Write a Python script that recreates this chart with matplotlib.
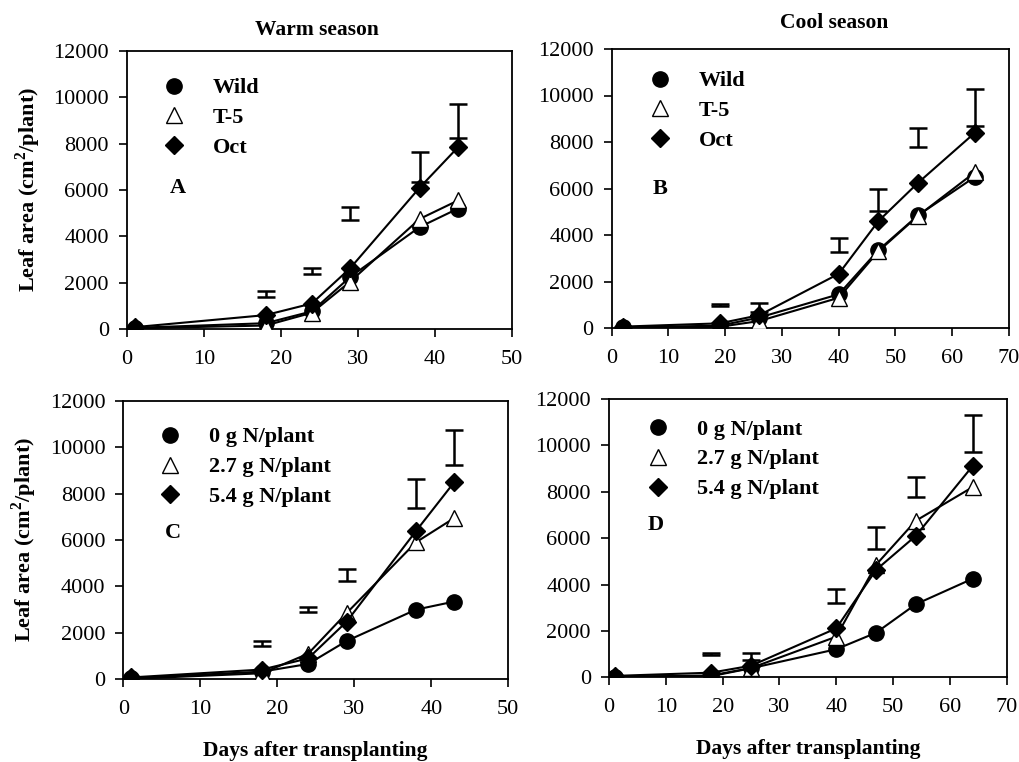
import numpy as np
import matplotlib
matplotlib.use("Agg")
import matplotlib.pyplot as plt

plt.rcParams["font.family"] = ["Liberation Serif", "DejaVu Serif"]
plt.rcParams["mathtext.fontset"] = "custom"
plt.rcParams["mathtext.rm"] = "Liberation Serif:bold"
plt.rcParams["mathtext.bf"] = "Liberation Serif:bold"

# --- data (leaf area, cm2/plant) ---
days_warm = [1, 18, 24, 29, 38, 43]
days_cool_b = [2, 19, 26, 40, 47, 54, 64]
days_cool_d = [1, 18, 25, 40, 47, 54, 64]

# A: warm season, cultivars
a_wild = [50, 250, 760, 2250, 4400, 5200]
a_t5 = [30, 150, 700, 2050, 4750, 5550]
a_oct = [80, 600, 1100, 2630, 6100, 7850]
a_bar_lo = [1370, 2370, 4720, 6350, 8250]
a_bar_hi = [1660, 2620, 5250, 7620, 9720]
a_bar_x = [18, 24, 29, 38, 43]

# B: cool season, cultivars
b_wild = [30, 100, 450, 1450, 3350, 4850, 6500]
b_t5 = [20, 50, 300, 1300, 3300, 4830, 6700]
b_oct = [60, 200, 550, 2330, 4600, 6250, 8400]
b_bar_lo = [960, 690, 3280, 5030, 7770, 8690]
b_bar_hi = [1040, 1090, 3890, 5960, 8620, 10270]
b_bar_x = [19, 26, 40, 47, 54, 64]

# C: warm season, N rates
c_n0 = [50, 330, 660, 1650, 3000, 3350]
c_n27 = [20, 260, 1100, 2850, 5900, 6950]
c_n54 = [80, 420, 900, 2480, 6380, 8500]
c_bar_lo = [1435, 2910, 4250, 7390, 9230]
c_bar_hi = [1660, 3130, 4750, 8620, 10730]
c_bar_x = [18, 24, 29, 38, 43]

# D: cool season, N rates
d_n0 = [30, 50, 390, 1210, 1920, 3150, 4250]
d_n27 = [20, 80, 400, 1750, 4850, 6750, 8200]
d_n54 = [60, 200, 500, 2110, 4630, 6100, 9110]
d_bar_lo = [960, 750, 3190, 5520, 7760, 9730]
d_bar_hi = [1040, 1060, 3810, 6490, 8620, 11300]
d_bar_x = [18, 25, 40, 47, 54, 64]

labels_cv = ["Wild", "T-5", "Oct"]
labels_n = ["0 g N/plant", "2.7 g N/plant", "5.4 g N/plant"]

fig = plt.figure(figsize=(10.2, 7.62), dpi=100)

W, H = 1020.0, 762.0


def add_axes(left, right, top, bottom):
    return fig.add_axes([left / W, 1 - bottom / H, (right - left) / W, (bottom - top) / H])


panels = [
    (add_axes(127, 512, 51, 329), days_warm, (a_wild, a_t5, a_oct), a_bar_x, a_bar_lo, a_bar_hi,
     50, labels_cv, "A", (0.092, 0.759), (0.132, 0.507)),
    (add_axes(611.7, 1009, 49, 328), days_cool_b, (b_wild, b_t5, b_oct), b_bar_x, b_bar_lo, b_bar_hi,
     70, labels_cv, "B", (0.093, 0.778), (0.122, 0.498)),
    (add_axes(123.3, 508.3, 400.7, 679.3), days_warm, (c_n0, c_n27, c_n54), c_bar_x, c_bar_lo, c_bar_hi,
     50, labels_n, "C", (0.092, 0.762), (0.129, 0.525)),
    (add_axes(609, 1006.7, 399, 677.3), days_cool_d, (d_n0, d_n27, d_n54), d_bar_x, d_bar_lo, d_bar_hi,
     70, labels_n, "D", (0.095, 0.784), (0.118, 0.547)),
]

for ax, x, series, bx, blo, bhi, xmax, labels, letter, leg_pos, let_pos in panels:
    s1, s2, s3 = series
    ax.plot(x, s1, "-o", color="k", lw=1.5, ms=11, mfc="k", mec="k", label=labels[0], zorder=3)
    ax.plot(x, s2, "-^", color="k", lw=1.5, ms=11, mfc="white", mec="k", mew=1.0,
            label=labels[1], zorder=3)
    ax.plot(x, s3, "-D", color="k", lw=1.5, ms=9, mfc="k", mec="k", label=labels[2], zorder=4)

    lo = np.array(blo)
    hi = np.array(bhi)
    mid = (lo + hi) / 2
    ax.errorbar(bx, mid, yerr=(hi - lo) / 2, fmt="none", ecolor="k", elinewidth=1.8,
                capsize=6.5, capthick=1.8, zorder=5)

    ax.set_xlim(0, xmax)
    ax.set_ylim(0, 12000)
    ax.set_xticks(np.arange(0, xmax + 1, 10))
    ax.set_yticks(np.arange(0, 12001, 2000))
    ax.tick_params(direction="out", length=6, width=1.2, labelsize=16, top=False, right=False)
    ax.tick_params(axis="x", pad=9)
    ax.tick_params(axis="y", pad=7)
    for sp in ax.spines.values():
        sp.set_linewidth(1.3)

    leg = ax.legend(loc="center left", bbox_to_anchor=leg_pos, frameon=False,
                    prop={"weight": "bold", "size": 16}, handlelength=1.0,
                    handletextpad=1.25, labelspacing=0.42, borderpad=0, borderaxespad=0)
    for h in leg.legend_handles:
        h.set_linestyle("none")

    ax.text(let_pos[0], let_pos[1], letter, transform=ax.transAxes, fontsize=16,
            fontweight="bold", ha="center", va="center")

ylab = "Leaf area (cm$^\\mathbf{2}$/plant)"
fig.text(28 / W, 1 - 190 / H, ylab, rotation=90, ha="center", va="center",
         fontsize=16, fontweight="bold")
fig.text(24 / W, 1 - 540 / H, ylab, rotation=90, ha="center", va="center",
         fontsize=16, fontweight="bold")

fig.text(317 / W, 1 - 30 / H, "Warm season", ha="center", va="center", fontsize=15.5, fontweight="bold")
fig.text(834 / W, 1 - 23 / H, "Cool season", ha="center", va="center", fontsize=15.5, fontweight="bold")

fig.text(315 / W, 1 - 751 / H, "Days after transplanting", ha="center", va="center",
         fontsize=15.5, fontweight="bold")
fig.text(808 / W, 1 - 749 / H, "Days after transplanting", ha="center", va="center",
         fontsize=15.5, fontweight="bold")

fig.savefig("out.png", dpi=100, facecolor="white")
